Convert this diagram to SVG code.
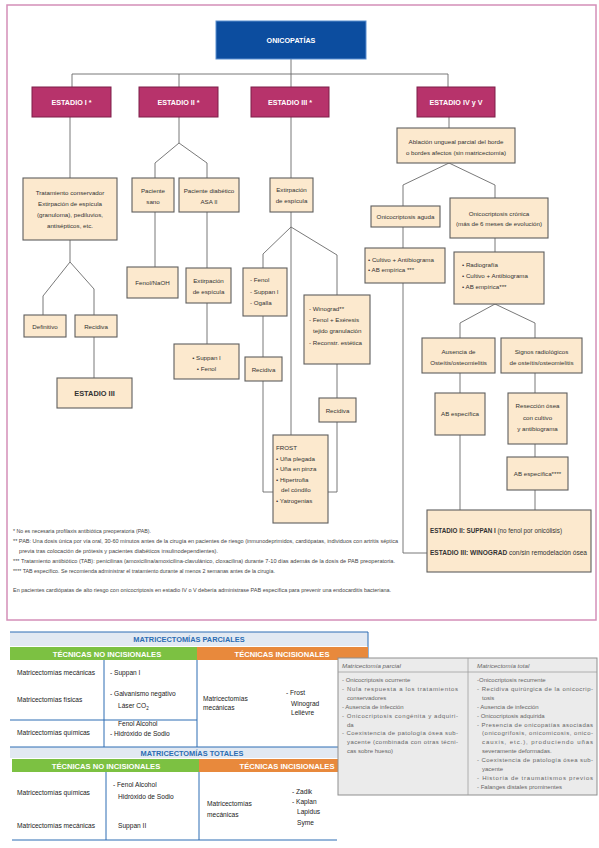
<svg xmlns="http://www.w3.org/2000/svg" width="599" height="848" viewBox="0 0 599 848">
<style>
text{font-family:"Liberation Sans","DejaVu Sans",sans-serif;}
.frame{fill:none;stroke:#d48fb8;stroke-width:1.5}
.box{fill:#fce9ce;stroke:#5e5e5e;stroke-width:1.1}
.stage{fill:#b7336b;stroke:#7d1f49;stroke-width:1}
.root{fill:#0c4d9f;stroke:#5a8fd0;stroke-width:1}
.st{fill:#fff;font-size:7.2px;font-weight:bold;text-anchor:middle}
.t{fill:#333;font-size:6.2px;text-anchor:middle}
.tl{fill:#333;font-size:6.2px}
.tb{fill:#333;font-size:7.4px;font-weight:bold;text-anchor:middle}
.fin{fill:#333;font-size:6.6px}
.fn{fill:#444;font-size:5.2px}
.con{fill:none;stroke:#6a6a6a;stroke-width:0.9}
.band{fill:#e2e9f2}
.bandt{fill:#2c6db3;font-size:7.4px;font-weight:bold;text-anchor:middle}
.green{fill:#7cc142}
.orange{fill:#e8893c}
.ht{fill:#fff;font-size:7.6px;font-weight:bold;text-anchor:middle}
.bl{stroke:#2c6db3;stroke-width:1;fill:none}
.tt{fill:#222;font-size:6.6px}
.gt{fill:#666;font-size:6px}
.gh{fill:#666;font-size:6.2px;font-style:italic}
</style>
<defs>
<clipPath id="clipTot"><rect x="0" y="748.5" width="400" height="20"/></clipPath>
</defs>
<rect x="0" y="0" width="599" height="848" fill="#fff"/>
<rect class="frame" x="7" y="5" width="589" height="615"/>

<g id="connectors">
<path class="con" d="M291,59V74M72,87V74H448V87M179,74V87M291,74V87"/>
<path class="con" d="M70,117V178M70,240V262M70,262L43,296V315M70,262L94,289V315M94,337V378"/>
<path class="con" d="M179,117V143M179,143L155,163V178M179,143L207,163V178M155,212V267M207,212V268M207,303V344"/>
<path class="con" d="M291,117V178M291,212V227M291,227L263,254V268M291,227V435M291,227L337,255V295M263,316V357M263,381V492H273M337,364V398M337,422V492H328"/>
<path class="con" d="M449,117V128M449,163L403,185V206M449,163L495,185V198M403,227V248M403,283V553H427M495,238V252M495,304L460,323V338M495,304L535,323V338M460,373V393M460,435V510M535,373V393M535,444V457M535,490V510"/>
</g>

<g id="root"><rect class="root" x="216" y="21" width="150" height="38"/><text class="st" x="291" y="43">ONICOPATÍAS</text></g>
<g id="est1"><rect class="stage" x="32" y="87" width="79" height="30"/><text class="st" x="71.5" y="104.5">ESTADIO I *</text></g>
<g id="est2"><rect class="stage" x="139" y="87" width="79" height="30"/><text class="st" x="178.5" y="104.5">ESTADIO II *</text></g>
<g id="est3"><rect class="stage" x="251" y="87" width="78" height="30"/><text class="st" x="290" y="104.5">ESTADIO III *</text></g>
<g id="est45"><rect class="stage" x="417" y="87" width="78" height="30"/><text class="st" x="456" y="104.5">ESTADIO IV y V</text></g>

<g id="tratamiento"><rect class="box" x="23" y="178" width="94" height="62"/>
<text class="t" x="70" y="195">Tratamiento conservador</text>
<text class="t" x="70" y="205.5">Extirpación de espícula</text>
<text class="t" x="70" y="216.5">(granuloma), pediluvios,</text>
<text class="t" x="70" y="227.5">antisépticos, etc.</text></g>
<g id="definitivo"><rect class="box" x="24" y="315" width="42" height="22"/><text class="t" x="45" y="328.5">Definitivo</text></g>
<g id="recidiva1"><rect class="box" x="75" y="315" width="42" height="22"/><text class="t" x="96" y="328.5">Recidiva</text></g>
<g id="estadio3b"><rect class="box" x="57" y="378" width="75" height="30"/><text class="tb" x="94.5" y="396">ESTADIO III</text></g>

<g id="sano"><rect class="box" x="132" y="178" width="42" height="34"/><text class="t" x="153" y="193">Paciente</text><text class="t" x="153" y="204">sano</text></g>
<g id="diabetico"><rect class="box" x="179" y="178" width="60" height="34"/><text class="t" x="209" y="193">Paciente diabético</text><text class="t" x="209" y="204">ASA II</text></g>
<g id="fenolnaoh"><rect class="box" x="127" y="267" width="51" height="31"/><text class="t" x="152.5" y="284.5">Fenol/NaOH</text></g>
<g id="extirp2"><rect class="box" x="186" y="268" width="45" height="35"/><text class="t" x="208.5" y="282.5">Extirpación</text><text class="t" x="208.5" y="293.5">de espícula</text></g>
<g id="suppan2"><rect class="box" x="174" y="344" width="65" height="35"/><text class="t" x="206.5" y="359.5">• Suppan I</text><text class="t" x="206.5" y="370.5">• Fenol</text></g>

<g id="extirp3"><rect class="box" x="270" y="178" width="43" height="34"/><text class="t" x="291.5" y="192">Extirpación</text><text class="t" x="291.5" y="203">de espícula</text></g>
<g id="fenol3"><rect class="box" x="243" y="268" width="44" height="48"/>
<text class="tl" x="250" y="282">- Fenol</text><text class="tl" x="250" y="293.5">- Suppan I</text><text class="tl" x="250" y="305">- Ogalla</text></g>
<g id="recidiva3a"><rect class="box" x="245" y="357" width="37" height="24"/><text class="t" x="263.5" y="371.5">Recidiva</text></g>
<g id="winograd"><rect class="box" x="304" y="295" width="66" height="69"/>
<text class="tl" x="309" y="311">- Winograd**</text><text class="tl" x="309" y="322">- Fenol + Exéresis</text><text class="tl" x="313" y="333">tejido granulación</text><text class="tl" x="309" y="344.5">- Reconstr. estética</text></g>
<g id="recidiva3b"><rect class="box" x="319" y="398" width="37" height="24"/><text class="t" x="337.5" y="412.5">Recidiva</text></g>
<g id="frost"><rect class="box" x="273" y="435" width="55" height="88"/>
<text class="tl" x="276" y="450">FROST</text><text class="tl" x="276" y="460.6">• Uña plegada</text><text class="tl" x="276" y="471.2">• Uña en pinza</text><text class="tl" x="276" y="481.8">• Hipertrofia</text><text class="tl" x="281" y="492.4">del cóndilo</text><text class="tl" x="276" y="503">• Yatrogenias</text></g>

<g id="ablacion"><rect class="box" x="397" y="128" width="118" height="35"/>
<text class="t" x="456" y="144">Ablación ungueal parcial del borde</text><text class="t" x="456" y="155">o  bordes afectos (sin matricectomía)</text></g>
<g id="aguda"><rect class="box" x="371" y="206" width="69" height="21"/><text class="t" x="405.5" y="219">Onicocriptosis aguda</text></g>
<g id="cronica"><rect class="box" x="450" y="198" width="98" height="40"/><text class="t" x="499" y="215.5">Onicocriptosis crónica</text><text class="t" x="499" y="226">(más de 6 meses de evolución)</text></g>
<g id="cultivo"><rect class="box" x="365" y="248" width="80" height="35"/><text class="tl" x="368" y="261.5">• Cultivo +  Antibiograma</text><text class="tl" x="368" y="272">• AB empírica  ***</text></g>
<g id="radiografia"><rect class="box" x="454" y="252" width="90" height="52"/><text class="tl" x="462" y="267">• Radiografía</text><text class="tl" x="462" y="278">• Cultivo + Antibiograma</text><text class="tl" x="462" y="289">• AB empírica***</text></g>
<g id="ausencia"><rect class="box" x="422" y="338" width="73" height="35"/><text class="t" x="458.5" y="354">Ausencia de</text><text class="t" x="458.5" y="364.5">Osteítis/osteomielitis</text></g>
<g id="signos"><rect class="box" x="501" y="338" width="81" height="35"/><text class="t" x="541.5" y="354">Signos radiológicos</text><text class="t" x="541.5" y="364.5">de osteítis/osteomielitis</text></g>
<g id="abesp1"><rect class="box" x="435" y="393" width="50" height="42"/><text class="t" x="460" y="416">AB específica</text></g>
<g id="reseccion"><rect class="box" x="508" y="393" width="59" height="51"/><text class="t" x="537.5" y="408">Resección ósea</text><text class="t" x="537.5" y="419.5">con cultivo</text><text class="t" x="537.5" y="430.5">y antibiograma</text></g>
<g id="abesp2"><rect class="box" x="507" y="457" width="61" height="33"/><text class="t" x="537.5" y="475.5">AB específica****</text></g>
<g id="final"><rect class="box" x="427" y="510" width="164" height="62"/>
<text class="fin" x="430" y="533" textLength="132" lengthAdjust="spacingAndGlyphs"><tspan font-weight="bold">ESTADIO II: SUPPAN I</tspan> (no fenol por onicólisis)</text>
<text class="fin" x="430" y="555" textLength="157" lengthAdjust="spacingAndGlyphs"><tspan font-weight="bold">ESTADIO III: WINOGRAD</tspan> con/sin remodelación ósea</text></g>

<g id="footnotes">
<text class="fn" x="13" y="533" textLength="138" lengthAdjust="spacingAndGlyphs">* No es necesaria profilaxis antibiótica preoperatoria (PAB).</text>
<text class="fn" x="13" y="543" textLength="385" lengthAdjust="spacingAndGlyphs">** PAB: Una dosis única por vía oral, 30-60 minutos antes de la cirugía en pacientes de riesgo (inmunodeprimidos, cardiópatas, individuos con artritis séptica</text>
<text class="fn" x="19" y="552.5" textLength="199" lengthAdjust="spacingAndGlyphs">previa tras colocación de  prótesis y pacientes diabéticos insulinodependientes).</text>
<text class="fn" x="13" y="563" textLength="382" lengthAdjust="spacingAndGlyphs">*** Tratamiento antibiótico (TAB): penicilinas (amoxicilina/amoxicilina-clavulánico, cloxacilina) durante 7-10 días además de la dosis de PAB  preoperatoria.</text>
<text class="fn" x="13" y="573" textLength="262" lengthAdjust="spacingAndGlyphs">**** TAB específico. Se recomienda  administrar el tratamiento  durante al menos 2 semanas antes de la cirugía.</text>
<text class="fn" x="13" y="592" textLength="378" lengthAdjust="spacingAndGlyphs">En pacientes cardiópatas de alto riesgo con onicocriptosis en estadio IV o V debería administrase PAB específica para prevenir una endocarditis bacteriana.</text>
</g>

<g id="tabla-parciales">
<rect class="band" x="10" y="632" width="358" height="14"/>
<path class="bl" d="M10,632H368V660" stroke-width="0.8"/>
<text class="bandt" x="189" y="642">MATRICECTOMÍAS PARCIALES</text>
<rect class="green" x="10" y="647" width="187" height="13"/>
<rect class="orange" x="197" y="647" width="171" height="13"/>
<text class="ht" x="107" y="656.5">TÉCNICAS NO INCISIONALES</text>
<text class="ht" x="282" y="656.5">TÉCNICAS INCISIONALES</text>
<path class="bl" d="M104,660V747M197,660V747M10,720H197"/>
<text class="tt" x="17" y="674.5">Matricectomías mecánicas</text>
<text class="tt" x="110" y="674.5">- Suppan I</text>
<text class="tt" x="17" y="701.5">Matricectomías físicas</text>
<text class="tt" x="110" y="695.5">- Galvanismo negativo</text>
<text class="tt" x="118" y="708">Láser CO<tspan font-size="4.5" dy="1.5">2</tspan></text>
<text class="tt" x="17" y="734.5">Matricectomías químicas</text>
<text class="tt" x="118" y="726">Fenol Alcohol</text>
<text class="tt" x="110" y="735.5">- Hidróxido de Sodio</text>
<text class="tt" x="203" y="701">Matricectomías</text>
<text class="tt" x="203" y="709.5">mecánicas</text>
<text class="tt" x="286" y="695">- Frost</text>
<text class="tt" x="291" y="705.5">Winograd</text>
<text class="tt" x="291" y="715">Lelièvre</text>
</g>

<g id="tabla-totales">
<rect class="band" x="10" y="747" width="358" height="11"/>
<text class="bandt" x="192" y="755.5" font-size="8" clip-path="url(#clipTot)">MATRICECTOMÍAS TOTALES</text>
<path class="bl" d="M10,747H368"/>
<rect class="green" x="12" y="759" width="187" height="13"/>
<rect class="orange" x="199" y="759" width="169" height="13"/>
<text class="ht" x="106" y="768.5">TÉCNICAS NO INCISIONALES</text>
<text class="ht" x="287" y="768.5">TÉCNICAS INCISIONALES</text>
<path class="bl" d="M106,772V840M199,772V840M12,840H337"/>
<text class="tt" x="17" y="794.5" fill="#333">Matricectomías químicas</text>
<text class="tt" x="113" y="787">- Fenol Alcohol</text>
<text class="tt" x="118" y="799">Hidróxido de Sodio</text>
<text class="tt" x="17" y="827.5">Matricectomías mecánicas</text>
<text class="tt" x="118" y="827.5">Suppan II</text>
<text class="tt" x="207" y="805.5">Matricectomías</text>
<text class="tt" x="207" y="817">mecánicas</text>
<text class="tt" x="292" y="793.5">- Zadik</text>
<text class="tt" x="292" y="803.5">- Kaplan</text>
<text class="tt" x="297" y="813.5">Lapidus</text>
<text class="tt" x="297" y="824.5">Syme</text>
</g>

<g id="tabla-indicaciones">
<rect x="338" y="658" width="259" height="137" fill="#ebebeb" stroke="#8f8f8f" stroke-width="1"/>
<path d="M338,672H597M468,658V795" stroke="#a0a0a0" stroke-width="0.8" fill="none"/>
<text class="gh" x="342" y="668">Matricectomía parcial</text>
<text class="gh" x="477" y="668">Matricectomía total</text>
<text class="gt" x="342" y="682">- Onicocriptosis ocurrente</text>
<text class="gt" x="342" y="690.9" textLength="116" lengthAdjust="spacing">- Nula  respuesta  a  los  tratamientos</text>
<text class="gt" x="347" y="699.8">conservadores</text>
<text class="gt" x="342" y="708.7">- Ausencia de infección</text>
<text class="gt" x="342" y="717.6" textLength="116" lengthAdjust="spacing">- Onicocriptosis  congénita  y  adquiri-</text>
<text class="gt" x="347" y="726.5">da</text>
<text class="gt" x="342" y="735.4" textLength="116" lengthAdjust="spacing">- Coexistencia de patología ósea sub-</text>
<text class="gt" x="347" y="744.3" textLength="111" lengthAdjust="spacing">yacente (combinada con otras técni-</text>
<text class="gt" x="347" y="753.2">cas sobre hueso)</text>
<text class="gt" x="477" y="682">-Onicocriptosis recurrente</text>
<text class="gt" x="477" y="690.9" textLength="116" lengthAdjust="spacing">- Recidiva quirúrgica de la onicocrip-</text>
<text class="gt" x="482" y="699.8">tosis</text>
<text class="gt" x="477" y="708.7">- Ausencia de infección</text>
<text class="gt" x="477" y="717.6">- Onicocriptosis adquirida</text>
<text class="gt" x="477" y="726.5" textLength="116" lengthAdjust="spacing">- Presencia de onicopatías asociadas</text>
<text class="gt" x="482" y="735.4" textLength="111" lengthAdjust="spacing">(onicogrifosis, onicomicosis, onico-</text>
<text class="gt" x="482" y="744.3" textLength="111" lengthAdjust="spacing">cauxis,  etc.),  produciendo  uñas</text>
<text class="gt" x="482" y="753.2">severamente deformadas.</text>
<text class="gt" x="477" y="762.1" textLength="116" lengthAdjust="spacing">- Coexistencia de patología ósea sub-</text>
<text class="gt" x="482" y="771">yacente</text>
<text class="gt" x="477" y="779.9" textLength="116" lengthAdjust="spacing">- Historia de traumatismos previos</text>
<text class="gt" x="477" y="788.8">- Falanges distales prominentes</text>
</g>
</svg>
